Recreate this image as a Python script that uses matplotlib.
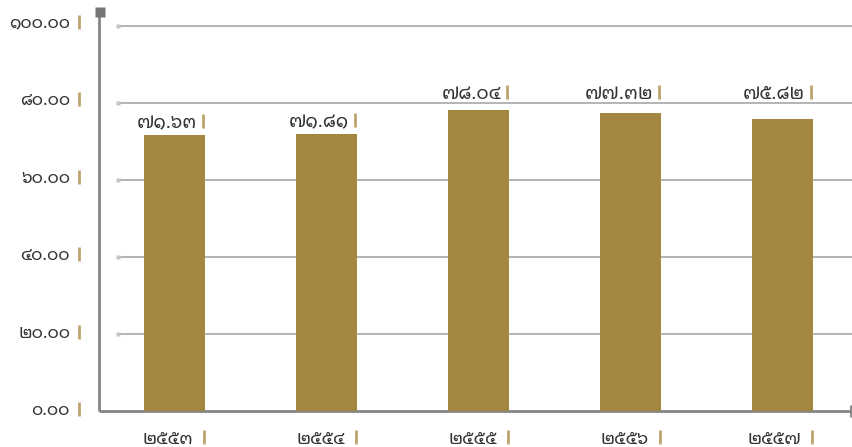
import matplotlib
matplotlib.use("Agg")
import matplotlib.pyplot as plt
import matplotlib.transforms as mtransforms

# ---- data ----
categories = ["๒๕๕๓", "๒๕๕๔", "๒๕๕๕", "๒๕๕๖", "๒๕๕๗"]
values = [71.63, 71.81, 78.04, 77.32, 75.82]
value_labels = ["๗๑.๖๓", "๗๑.๘๑", "๗๘.๐๔", "๗๗.๓๒", "๗๕.๘๒"]
yticks = [0, 20, 40, 60, 80, 100]
ytick_labels = ["๐.๐๐", "๒๐.๐๐", "๔๐.๐๐", "๖๐.๐๐", "๘๐.๐๐", "๑๐๐.๐๐"]

FONT = ["Noto Sans Thai Looped", "DejaVu Sans"]
BAR = "#a3863f"
GOLD = "#bda36e"
TXT = "#333333"
GRID = "#b4b4b4"
AXIS = "#858585"

W, H = 852, 447
fig = plt.figure(figsize=(W / 100, H / 100), dpi=100)
ax = fig.add_axes([99 / W, 1 - 411 / H, (W - 99) / W, (411 - 12) / H])
ax.set_xlim(-0.497, 4.457)
ax.set_ylim(0, 103.6)
ax.axis("off")

x = list(range(len(categories)))
ax.bar(x, values, width=0.40, color=BAR, zorder=3)

gx0 = (118 - 99) / (W - 99)
trans_yax = mtransforms.blended_transform_factory(ax.transAxes, ax.transData)


def gold_tick(xy, trans, dx, dy):
    t = mtransforms.offset_copy(trans, fig=fig, x=dx, y=dy, units="dots")
    ax.plot([xy[0]], [xy[1]], transform=t, marker="|", ms=10, mew=2,
            color=GOLD, clip_on=False, zorder=5)


# gridlines with small square markers at their start
for v in yticks[1:]:
    ax.plot([gx0, 1.0], [v, v], transform=trans_yax, color=GRID, lw=1.4, zorder=1,
            solid_capstyle="butt")
    ax.plot([gx0], [v], transform=trans_yax, marker="s", ms=3.2, color="#c4c4c4",
            mec="none", zorder=2)

# axes lines
ax.plot([0, 0], [0, 103.6], transform=trans_yax, color=AXIS, lw=2, zorder=2,
        clip_on=False, solid_capstyle="butt")
ax.plot([0, 1], [0, 0], transform=trans_yax, color=AXIS, lw=2, zorder=2,
        clip_on=False, solid_capstyle="butt")
ax.plot([0.0013], [103.6], transform=trans_yax, marker="s", ms=6.5, color="#777777",
        mec="none", clip_on=False, zorder=4)
ax.plot([0.999], [0], transform=trans_yax, marker="|", ms=8, mew=2, color=AXIS,
        clip_on=False, zorder=4)

# y tick labels
for v, lab in zip(yticks, ytick_labels):
    dy = 1 + v * 0.02
    ax.annotate(lab, xy=(0, v), xycoords=trans_yax, xytext=(-29, dy),
                textcoords="offset pixels", ha="right", va="center",
                fontsize=12.5, color=TXT, family=FONT, annotation_clip=False)
    gold_tick((0, v), trans_yax, -20, dy + 1)

# value labels (bumped above a gridline when they would sit on it) and category labels
px_per_unit = (411 - 26) / 100
for xi, v, vl, cat in zip(x, values, value_labels, categories):
    xr = xi + 0.20
    ylab = v + 12 / px_per_unit
    for g in yticks[1:]:
        if abs(ylab - g) < 4:
            ylab = g + 9 / px_per_unit
    ax.annotate(vl, xy=(xr, ylab), xytext=(-8, 0), textcoords="offset pixels",
                ha="right", va="center", fontsize=13.5, color=TXT, family=FONT,
                annotation_clip=False)
    gold_tick((xr, ylab), ax.transData, -2, 2)
    ax.annotate(cat, xy=(xr, 0), xytext=(-12, -28), textcoords="offset pixels",
                ha="right", va="center", fontsize=13, color=TXT, family=FONT,
                annotation_clip=False)
    gold_tick((xr, 0), ax.transData, -1, -26)

fig.savefig("out.png", dpi=100)
